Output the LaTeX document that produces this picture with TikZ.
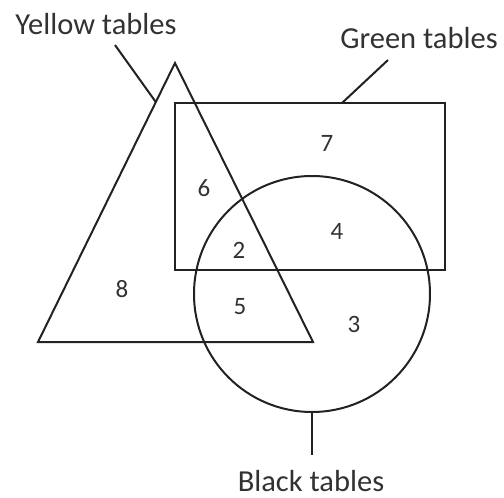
\documentclass[tikz,border=0pt]{standalone}
\usepackage{fontspec}
\setmainfont{Carlito}
\usetikzlibrary{calc}
\definecolor{vennline}{RGB}{34,34,34}
\definecolor{venntext}{RGB}{50,50,50}
\tikzset{
  setline/.style={line width=2pt, draw=vennline, line join=miter},
  pointer/.style={line width=2pt, draw=vennline},
  setlabel/.style={font=\fontsize{30.5}{32}\selectfont, text=venntext, inner sep=0pt},
  regionnum/.style={font=\fontsize{25}{27}\selectfont, text=venntext, inner sep=0pt}
}
\begin{document}
\begin{tikzpicture}[x=1pt, y=-1pt]
  \useasboundingbox (0,0) rectangle (504,498);

  % the three sets
  \coordinate (apex) at (175,63);
  \coordinate (baseL) at (38,342);
  \coordinate (baseR) at (313,342);
  \draw[setline] (apex) -- (baseL) -- (baseR) -- cycle;
  \draw[setline] (175,103) coordinate (greenNW) rectangle (445,270);
  \draw[setline] (312,294) coordinate (blackC) circle[radius=118pt];

  % set names
  \node[setlabel] (yellow) at (96,24) {Yellow tables};
  \node[setlabel] (green) at (419,38) {Green tables};
  \node[setlabel] (black) at (311,481) {Black tables};

  \coordinate (yellowTail) at (115,45);
  \coordinate (yellowHead) at ($(apex)!0.14!(baseL)$);
  \coordinate (greenTail) at (388,60);
  \coordinate (greenHead) at (342,103);
  \coordinate (blackHead) at (312,412);
  \coordinate (blackTail) at (312,455);
  \draw[pointer] (yellowTail) -- (yellowHead);
  \draw[pointer] (greenTail) -- (greenHead);
  \draw[pointer] (blackHead) -- (blackTail);

  % region counts
  \node[regionnum] (n7) at (327,143) {7};
  \node[regionnum] (n6) at (204,188) {6};
  \node[regionnum] (n4) at (337,231) {4};
  \node[regionnum] (n2) at (239,250) {2};
  \node[regionnum] (n8) at (122,289) {8};
  \node[regionnum] (n5) at (240,307) {5};
  \node[regionnum] (n3) at (354,324) {3};
\end{tikzpicture}
\end{document}
